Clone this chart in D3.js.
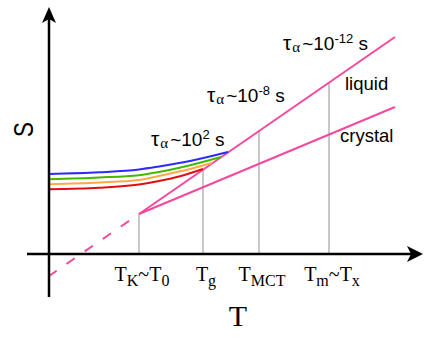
<!DOCTYPE html>
<html>
<head>
<meta charset="utf-8">
<script src="https://cdn.jsdelivr.net/npm/d3@7"></script>
<style>
  body { margin: 0; background: #fff; }
  svg { display: block; }
</style>
</head>
<body>
<svg width="437" height="346"></svg>
<script>
// lines in (T, S), arbitrary units
const liquid = [[9, 4], [34.6, 21.7]];
const crystal = [[9, 4], [34.6, 14.7]];
const liquidExtrap = [[9, 4], [0, -2.2]];

// glass curves leaving the liquid line
const glassRed = [[0, 6.47], [5, 6.62], [9, 6.95], [11, 7.3], [13, 7.75], [15.4, 8.5]];
const glassOrange = [[0, 6.97], [5, 7.15], [9, 7.4], [11, 7.8], [13.5, 8.35], [16.3, 9.1]];
const glassGreen = [[0, 7.47], [5, 7.65], [9, 7.88], [11, 8.2], [14, 8.85], [17.2, 9.7]];
const glassBlue = [[0, 8.0], [5, 8.17], [9, 8.45], [11, 8.75], [14.1, 9.3], [17.9, 10.2]];

// special temperatures on the T axis
const tickValues = [9, 15.4, 21, 28];
const tickLabels = [
  [["T"], ["K", "sub"], ["~T"], ["0", "sub"]],
  [["T"], ["g", "sub"]],
  [["T"], ["MCT", "sub"]],
  [["T"], ["m", "sub"], ["~T"], ["x", "sub"]]
];

// relaxation time annotations
const tauExponents = ["2", "-8", "-12"];
const tauAt = [[10.2, 10.8], [15.8, 15.2], [23.4, 20.4]];

let svg = d3.select('svg');

const xScale = d3.scaleLinear().domain([-2.2, 37.4]).range([27, 423]);
const yScale = d3.scaleLinear().domain([-4.3, 24.7]).range([297, 7]);

const pink = "#f4489e";
const line = d3.line().x(d => xScale(d[0])).y(d => yScale(d[1]));
const curve = d3.line().x(d => xScale(d[0])).y(d => yScale(d[1])).curve(d3.curveMonotoneX);

// liquid S at a given T (for the grey drop lines)
const liqSlope = (liquid[1][1] - liquid[0][1]) / (liquid[1][0] - liquid[0][0]);
const liqAt = t => liquid[0][1] + liqSlope * (t - liquid[0][0]);

// grey drop lines
svg.append("g").selectAll("line").data(tickValues).enter().append("line")
  .attr("x1", d => xScale(d)).attr("x2", d => xScale(d))
  .attr("y1", yScale(0)).attr("y2", d => yScale(liqAt(d)))
  .attr("stroke", "#c8c8c8").attr("stroke-width", 2);

// liquid, crystal, extrapolation
svg.append("path").attr("d", line(liquid)).attr("fill", "none")
  .attr("stroke", pink).attr("stroke-width", 2);
svg.append("path").attr("d", line(crystal)).attr("fill", "none")
  .attr("stroke", pink).attr("stroke-width", 2);
svg.append("path").attr("d", line(liquidExtrap)).attr("fill", "none")
  .attr("stroke", pink).attr("stroke-width", 2)
  .attr("stroke-dasharray", "0,12,10,0");

// glass curves
const glass = [
  { pts: glassRed, color: "#e01010" },
  { pts: glassOrange, color: "#ffaa44" },
  { pts: glassGreen, color: "#44b800" },
  { pts: glassBlue, color: "#2b2bff" }
];
svg.append("g").selectAll("path").data(glass).enter().append("path")
  .attr("d", d => curve(d.pts)).attr("fill", "none")
  .attr("stroke", d => d.color).attr("stroke-width", 2);

// axes with arrows
const x0 = xScale(0), y0 = yScale(0);
const xEnd = xScale.range()[1], yTop = yScale.range()[1];
svg.append("line").attr("x1", xScale.range()[0]).attr("x2", xEnd - 10)
  .attr("y1", y0).attr("y2", y0).attr("stroke", "#000").attr("stroke-width", 2.5);
svg.append("line").attr("x1", x0).attr("x2", x0)
  .attr("y1", yScale.range()[0]).attr("y2", yTop + 10)
  .attr("stroke", "#000").attr("stroke-width", 2.5);
svg.append("path")
  .attr("d", `M${xEnd},${y0} L${xEnd - 16},${y0 - 8} L${xEnd - 12},${y0} L${xEnd - 16},${y0 + 8} Z`)
  .attr("fill", "#000");
svg.append("path")
  .attr("d", `M${x0},${yTop} L${x0 - 7},${yTop + 16} L${x0},${yTop + 12} L${x0 + 7},${yTop + 16} Z`)
  .attr("fill", "#000");

// tick labels
function addParts(text, parts, big, small, shift) {
  let cur = 0;
  parts.forEach(p => {
    const want = p[1] === "sub" ? shift : p[1] === "sup" ? -shift : 0;
    text.append("tspan").text(p[0])
      .attr("font-size", p[1] ? small : big)
      .attr("dy", want - cur);
    cur = want;
  });
}

tickValues.forEach((v, i) => {
  const t = svg.append("text")
    .attr("x", xScale(v) + 3).attr("y", y0 + 27)
    .attr("text-anchor", "middle")
    .attr("font-family", "Liberation Serif, Times New Roman, serif")
    .attr("fill", "#000");
  addParts(t, tickLabels[i], 20, 16, 5);
});

// axis titles
svg.append("text").attr("x", xScale(18.9)).attr("y", 326)
  .attr("text-anchor", "middle")
  .attr("font-family", "Liberation Serif, Times New Roman, serif")
  .attr("font-size", 30).text("T");
svg.append("text")
  .attr("transform", "translate(33,129.5) rotate(-90) scale(0.8,1)")
  .attr("text-anchor", "middle")
  .attr("font-family", "Liberation Sans, Arial, sans-serif")
  .attr("font-size", 28).text("S");

// tau annotations
tauExponents.forEach((e, i) => {
  const t = svg.append("text")
    .attr("x", xScale(tauAt[i][0])).attr("y", yScale(tauAt[i][1]))
    .attr("font-family", "Liberation Sans, Arial, sans-serif")
    .attr("fill", "#000");
  t.append("tspan").text("τ").attr("font-size", 21);
  t.append("tspan").text("α").attr("font-size", 15).attr("dy", 2)
    .attr("font-family", "Liberation Serif, serif").attr("dx", 1);
  t.append("tspan").text("~10").attr("font-size", 19).attr("dy", -2).attr("dx", 2);
  t.append("tspan").text(e).attr("font-size", 13).attr("dy", -7);
  t.append("tspan").text(" s").attr("font-size", 19).attr("dy", 7);
});

svg.append("text").attr("x", xScale(29.6)).attr("y", yScale(16.4))
  .attr("font-family", "Liberation Sans, Arial, sans-serif")
  .attr("font-size", 18.5).text("liquid");
svg.append("text").attr("x", xScale(29.1)).attr("y", yScale(11.2))
  .attr("font-family", "Liberation Sans, Arial, sans-serif")
  .attr("font-size", 18.5).text("crystal");
</script>
</body>
</html>
